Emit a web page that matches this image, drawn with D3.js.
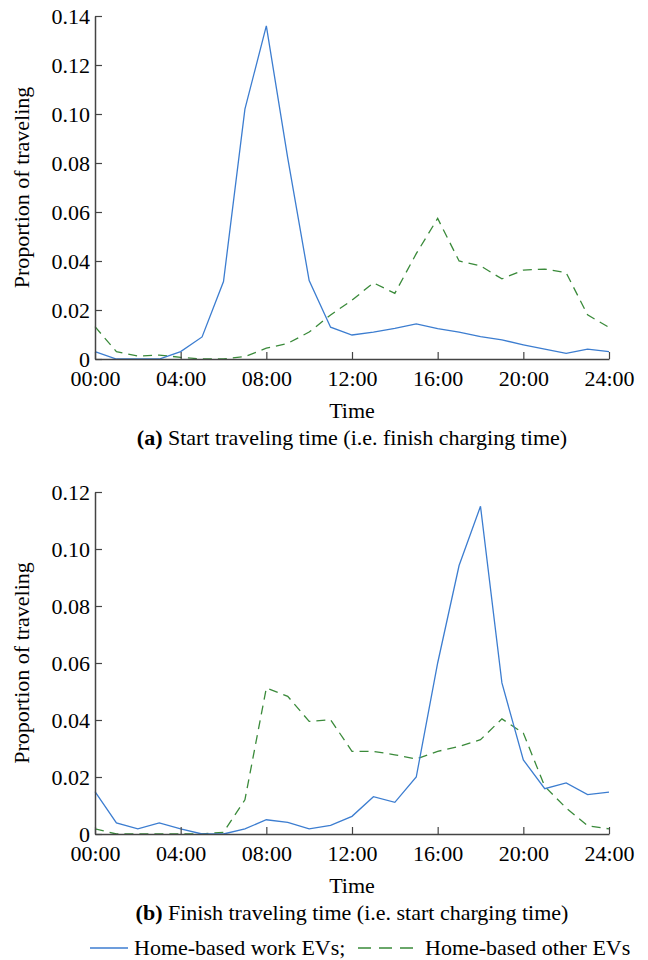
<!DOCTYPE html>
<html>
<head>
<meta charset="utf-8">
<script src="https://cdn.jsdelivr.net/npm/d3@7"></script>
<style>
  body { margin: 0; background: #fff; }
  svg text { font-family: "Liberation Serif", "Times New Roman", Times, "Tinos", "DejaVu Serif", serif; }
</style>
</head>
<body>
<script>
'use strict';

const width = 648;
const height = 960;
const serif = "'Liberation Serif', 'Times New Roman', Times, Tinos, 'DejaVu Serif', serif";

// hours of the day (x categories)
const hours = [0, 1, 2, 3, 4, 5, 6, 7, 8, 9, 10, 11, 12, 13, 14, 15, 16, 17, 18, 19, 20, 21, 22, 23, 24];
const hourTicks = [0, 4, 8, 12, 16, 20, 24];
const hourLabels = ["00:00", "04:00", "08:00", "12:00", "16:00", "20:00", "24:00"];

// (a) start traveling time
const startWork = [0.003, 0, 0, 0, 0.003, 0.009, 0.0316, 0.102, 0.136, 0.082, 0.032, 0.013, 0.0098,
    0.011, 0.0125, 0.0143, 0.0124, 0.011, 0.0091, 0.0078, 0.0058, 0.004, 0.0023, 0.004, 0.003];
const startOther = [0.0132, 0.003, 0.0012, 0.0016, 0.0007, 0, 0, 0.001, 0.0044, 0.0064, 0.011, 0.018, 0.024,
    0.0311, 0.0268, 0.043, 0.0574, 0.040, 0.038, 0.0327, 0.0363, 0.0367, 0.0352, 0.018, 0.0129];
const startTicks = [0, 0.02, 0.04, 0.06, 0.08, 0.10, 0.12, 0.14];

// (b) finish traveling time
const finishWork = [0.0149, 0.0039, 0.0018, 0.0039, 0.0018, 0, 0, 0.0018, 0.005, 0.0041, 0.0018, 0.003, 0.0062,
    0.0131, 0.0111, 0.020, 0.060, 0.0942, 0.115, 0.053, 0.026, 0.0159, 0.0179, 0.0138, 0.0147];
const finishOther = [0.0018, 0, 0, 0, 0, 0, 0.0006, 0.012, 0.0512, 0.0483, 0.0395, 0.0401, 0.029,
    0.029, 0.0278, 0.0263, 0.029, 0.0307, 0.0331, 0.0404, 0.0354, 0.0167, 0.0091, 0.0029, 0.0018];
const finishTicks = [0, 0.02, 0.04, 0.06, 0.08, 0.10, 0.12];

const seriesNames = ["Home-based work EVs;", "Home-based other EVs"];
const blue = "#3c7dd0";
const green = "#3a8a3a";

const svg = d3.select("body")
    .append("svg")
    .attr("width", width)
    .attr("height", height)
    .style("font-family", serif);

const x = d3.scaleLinear()
    .domain([0, 24])
    .range([95, 609]);

function drawPanel(top, bottom, maxY, ticks, work, other, tag, caption) {
    let y = d3.scaleLinear()
        .domain([0, maxY])
        .range([bottom, top]);

    let line = d3.line()
        .x((d, i) => x(hours[i]))
        .y(d => y(d));

    let g = svg.append("g");

    g.append("path")
        .attr("d", line(other))
        .attr("fill", "none")
        .attr("stroke", green)
        .attr("stroke-width", 1.3)
        .attr("stroke-dasharray", "9,6");

    g.append("path")
        .attr("d", line(work))
        .attr("fill", "none")
        .attr("stroke", blue)
        .attr("stroke-width", 1.3);

    let xAxis = g.append("g")
        .attr("transform", "translate(0," + bottom + ")")
        .call(d3.axisBottom(x)
            .tickValues(hourTicks)
            .tickFormat((d, i) => hourLabels[i])
            .tickSizeInner(-7)
            .tickSizeOuter(0)
            .tickPadding(11));

    let yAxis = g.append("g")
        .attr("transform", "translate(" + x(0) + ",0)")
        .call(d3.axisLeft(y)
            .tickValues(ticks)
            .tickFormat(d => d === 0 ? "0" : d3.format(".2f")(d))
            .tickSizeInner(-7)
            .tickSizeOuter(0)
            .tickPadding(5));

    [xAxis, yAxis].forEach(a => {
        a.attr("font-family", serif);
        a.select(".domain").attr("stroke", "#444").attr("stroke-width", 1.5);
        a.selectAll(".tick line").attr("stroke", "#444").attr("stroke-width", 1.2);
        a.selectAll("text")
            .attr("font-size", 22)
            .attr("fill", "#000");
    });

    g.append("text")
        .attr("transform", "translate(29," + ((top + bottom) / 2) + ") rotate(-90)")
        .attr("text-anchor", "middle")
        .attr("font-size", 22)
        .attr("fill", "#000")
        .text("Proportion of traveling");

    g.append("text")
        .attr("x", 352)
        .attr("y", bottom + 59)
        .attr("text-anchor", "middle")
        .attr("font-size", 22)
        .attr("fill", "#000")
        .text("Time");

    let cap = g.append("text")
        .attr("x", 352)
        .attr("y", bottom + 86)
        .attr("text-anchor", "middle")
        .attr("font-size", 22)
        .attr("fill", "#000");
    cap.append("tspan").attr("font-weight", "bold").text(tag);
    cap.append("tspan").text(" " + caption);
}

drawPanel(16, 359, 0.14, startTicks, startWork, startOther,
    "(a)", "Start traveling time (i.e. finish charging time)");
drawPanel(492, 834, 0.12, finishTicks, finishWork, finishOther,
    "(b)", "Finish traveling time (i.e. start charging time)");

// legend
let legend = svg.append("g");
let legY = 948;

legend.append("line")
    .attr("x1", 90).attr("x2", 128)
    .attr("y1", legY).attr("y2", legY)
    .attr("stroke", blue).attr("stroke-width", 1.3);

legend.append("text")
    .attr("x", 134).attr("y", legY + 7)
    .attr("font-size", 22).attr("fill", "#000")
    .text(seriesNames[0]);

legend.append("line")
    .attr("x1", 358).attr("x2", 420)
    .attr("y1", legY).attr("y2", legY)
    .attr("stroke", green).attr("stroke-width", 1.3)
    .attr("stroke-dasharray", "13,8");

legend.append("text")
    .attr("x", 425).attr("y", legY + 7)
    .attr("font-size", 22).attr("fill", "#000")
    .text(seriesNames[1]);
</script>
</body>
</html>
